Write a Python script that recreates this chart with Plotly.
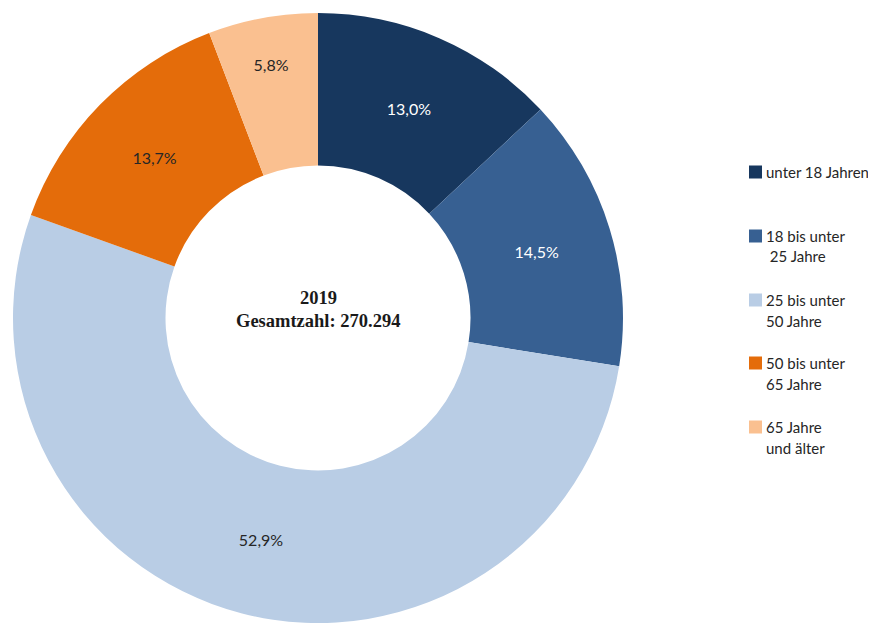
import plotly.graph_objects as go

W, H = 876, 623
OFF = 8  # page body margin offset

categories = ["unter 18 Jahren", "18 bis unter 25 Jahre", "25 bis unter 50 Jahre",
              "50 bis unter 65 Jahre", "65 Jahre und älter"]
values = [13.0, 14.5, 52.9, 13.7, 5.8]
legend_lines = [["unter 18 Jahren"], ["18 bis unter", " 25 Jahre"], ["25 bis unter", "50 Jahre"],
                ["50 bis unter", "65 Jahre"], ["65 Jahre", "und älter"]]
colors = ["#17375e", "#376092", "#b9cde5", "#e46c0a", "#fac090"]
text_colors = ["#ffffff", "#ffffff", "#262626", "#262626", "#262626"]
center_year = "2019"
center_total = "Gesamtzahl: 270.294"

labels_txt = [f"{v:.1f}".replace(".", ",") + "%" for v in values]

def px(x):
    return (x - OFF) / W

def py(y):
    return 1 - (y - OFF) / H

fig = go.Figure()
fig.add_trace(go.Pie(
    labels=categories,
    values=values,
    text=labels_txt,
    textinfo="text",
    textposition="inside",
    insidetextorientation="horizontal",
    sort=False,
    direction="clockwise",
    rotation=0,
    hole=0.5,
    marker=dict(colors=colors, line=dict(width=0)),
    textfont=dict(family="Lato", size=16, color=text_colors),
    showlegend=False,
    domain=dict(x=[px(13), px(623)], y=[py(623), py(13)]),
    hoverinfo="label+text",
))

annotations = [
    dict(x=px(318), y=py(298), xref="paper", yref="paper", text=f"<b>{center_year}</b>",
         showarrow=False, font=dict(family="Liberation Serif", size=18.5, color="#1a1a1a"),
         xanchor="center", yanchor="middle"),
    dict(x=px(318), y=py(321), xref="paper", yref="paper", text=f"<b>{center_total}</b>",
         showarrow=False, font=dict(family="Liberation Serif", size=18.5, color="#1a1a1a"),
         xanchor="center", yanchor="middle"),
]
shapes = []
row_y = [172, 236, 300, 363, 427]
for i, lines in enumerate(legend_lines):
    yc = row_y[i]
    shapes.append(dict(type="rect", xref="paper", yref="paper",
                       x0=px(749), x1=px(762), y0=py(yc + 6.5), y1=py(yc - 6.5),
                       fillcolor=colors[i], line=dict(width=0)))
    for j, ln in enumerate(lines):
        annotations.append(dict(x=px(764), y=py(yc + 20.5 * j), xref="paper", yref="paper",
                                text=ln.replace(" ", "&nbsp;", 1) if ln.startswith(" ") else ln,
                                showarrow=False, xanchor="left", yanchor="middle",
                                font=dict(family="Lato", size=15, color="#262626")))

fig.update_layout(
    width=W, height=H,
    margin=dict(l=0, r=0, t=0, b=0),
    paper_bgcolor="white", plot_bgcolor="white",
    annotations=annotations,
    shapes=shapes,
)

fig.write_html("out.html")
